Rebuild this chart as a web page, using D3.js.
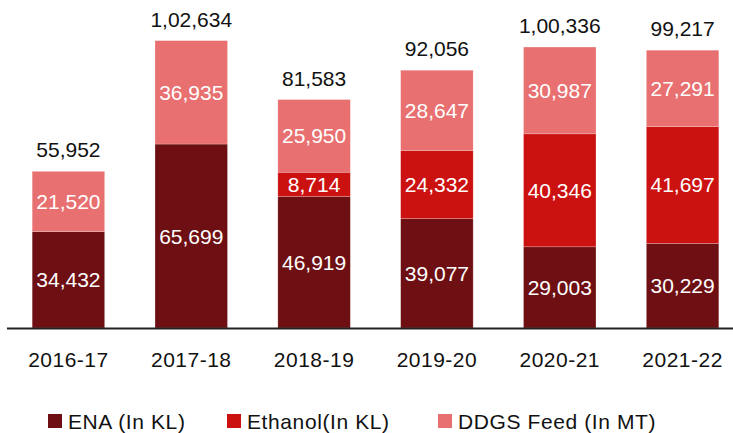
<!DOCTYPE html>
<html>
<head>
<meta charset="utf-8">
<script src="https://cdn.jsdelivr.net/npm/d3@7"></script>
<style>
body { margin: 0; background: #fff; }
text { font-family: "Liberation Sans", Arial, sans-serif; }
</style>
</head>
<body>
<svg id="chart" width="733" height="433"></svg>
<script>
// values
const years = ['2016-17', '2017-18', '2018-19', '2019-20', '2020-21', '2021-22'];
const ena = [34432, 65699, 46919, 39077, 29003, 30229];
const ethanol = [0, 0, 8714, 24332, 40346, 41697];
const ddgs = [21520, 36935, 25950, 28647, 30987, 27291];
const series_names = ['ENA (In KL)', 'Ethanol(In KL)', 'DDGS Feed (In MT)'];
const series_colors = ['#6e1013', '#cc1210', '#e87070'];

// indian grouping, 102634 -> 1,02,634
function fmt_in(n){
    let s = String(Math.round(n));
    if (s.length <= 3) return s;
    let last3 = s.slice(-3);
    let rest = s.slice(0, -3);
    rest = rest.replace(/\B(?=(\d{2})+(?!\d))/g, ',');
    return rest + ',' + last3;
}

const width = 733, height = 433;
const base = 328;
const svg = d3.select('#chart');

const rows = years.map((y, i) => ({year: y, ena: ena[i], ethanol: ethanol[i], ddgs: ddgs[i]}));
const keys = ['ena', 'ethanol', 'ddgs'];
const stack = d3.stack().keys(keys)(rows);

var x = d3.scaleBand()
    .domain(years)
    .range([7, 744])
    .paddingInner(0.41)
    .paddingOuter(0.205);

var y = d3.scaleLinear()
    .domain([0, 110000])
    .range([base, base - 110000 * 0.0028]);

const color = d3.scaleOrdinal().domain(keys).range(series_colors);

const layers = svg.append('g')
    .selectAll('g')
    .data(stack)
    .enter()
    .append('g')
    .attr('fill', d => color(d.key));

layers.selectAll('rect')
    .data(d => d.filter(s => s[1] - s[0] > 0))
    .enter()
    .append('rect')
    .attr('x', d => x(d.data.year))
    .attr('y', d => y(d[1]))
    .attr('width', x.bandwidth())
    .attr('height', d => y(d[0]) - y(d[1]))
    .attr('stroke', 'rgba(255,255,255,0.35)')
    .attr('stroke-width', 0.6);

// labels inside segments
layers.selectAll('text')
    .data(d => d.filter(s => s[1] - s[0] > 0))
    .enter()
    .append('text')
    .text(d => fmt_in(d[1] - d[0]))
    .attr('x', d => x(d.data.year) + x.bandwidth() / 2)
    .attr('y', d => (y(d[0]) + y(d[1])) / 2)
    .attr('text-anchor', 'middle')
    .attr('dominant-baseline', 'central')
    .style('fill', 'white')
    .style('font-size', '21px');

// totals
svg.append('g')
    .selectAll('text')
    .data(rows)
    .enter()
    .append('text')
    .text(d => fmt_in(d.ena + d.ethanol + d.ddgs))
    .attr('x', d => x(d.year) + x.bandwidth() / 2)
    .attr('y', d => y(d.ena + d.ethanol + d.ddgs) - 14)
    .attr('text-anchor', 'middle')
    .style('fill', '#111')
    .style('font-size', '21px');

// baseline
svg.append('line')
    .attr('x1', 7).attr('x2', width)
    .attr('y1', y(0) + 0.5).attr('y2', y(0) + 0.5)
    .attr('stroke', '#222')
    .attr('stroke-width', 1.8);

// category labels
svg.append('g')
    .selectAll('text')
    .data(years)
    .enter()
    .append('text')
    .text(d => d)
    .attr('x', d => x(d) + x.bandwidth() / 2)
    .attr('y', 367)
    .attr('text-anchor', 'middle')
    .style('fill', '#111')
    .style('font-size', '21px')
    .style('letter-spacing', '0.5px');

// legend
const legend_x = [48, 227, 438];
const legend = svg.append('g')
    .selectAll('g')
    .data(series_names)
    .enter()
    .append('g')
    .attr('transform', (d, i) => 'translate(' + legend_x[i] + ',414)');

legend.append('rect')
    .attr('width', 14)
    .attr('height', 14)
    .attr('fill', (d, i) => series_colors[i]);

legend.append('text')
    .text(d => d)
    .attr('x', 20)
    .attr('y', 15)
    .style('fill', '#111')
    .style('font-size', '21px')
    .style('letter-spacing', '0.6px');
</script>
</body>
</html>
